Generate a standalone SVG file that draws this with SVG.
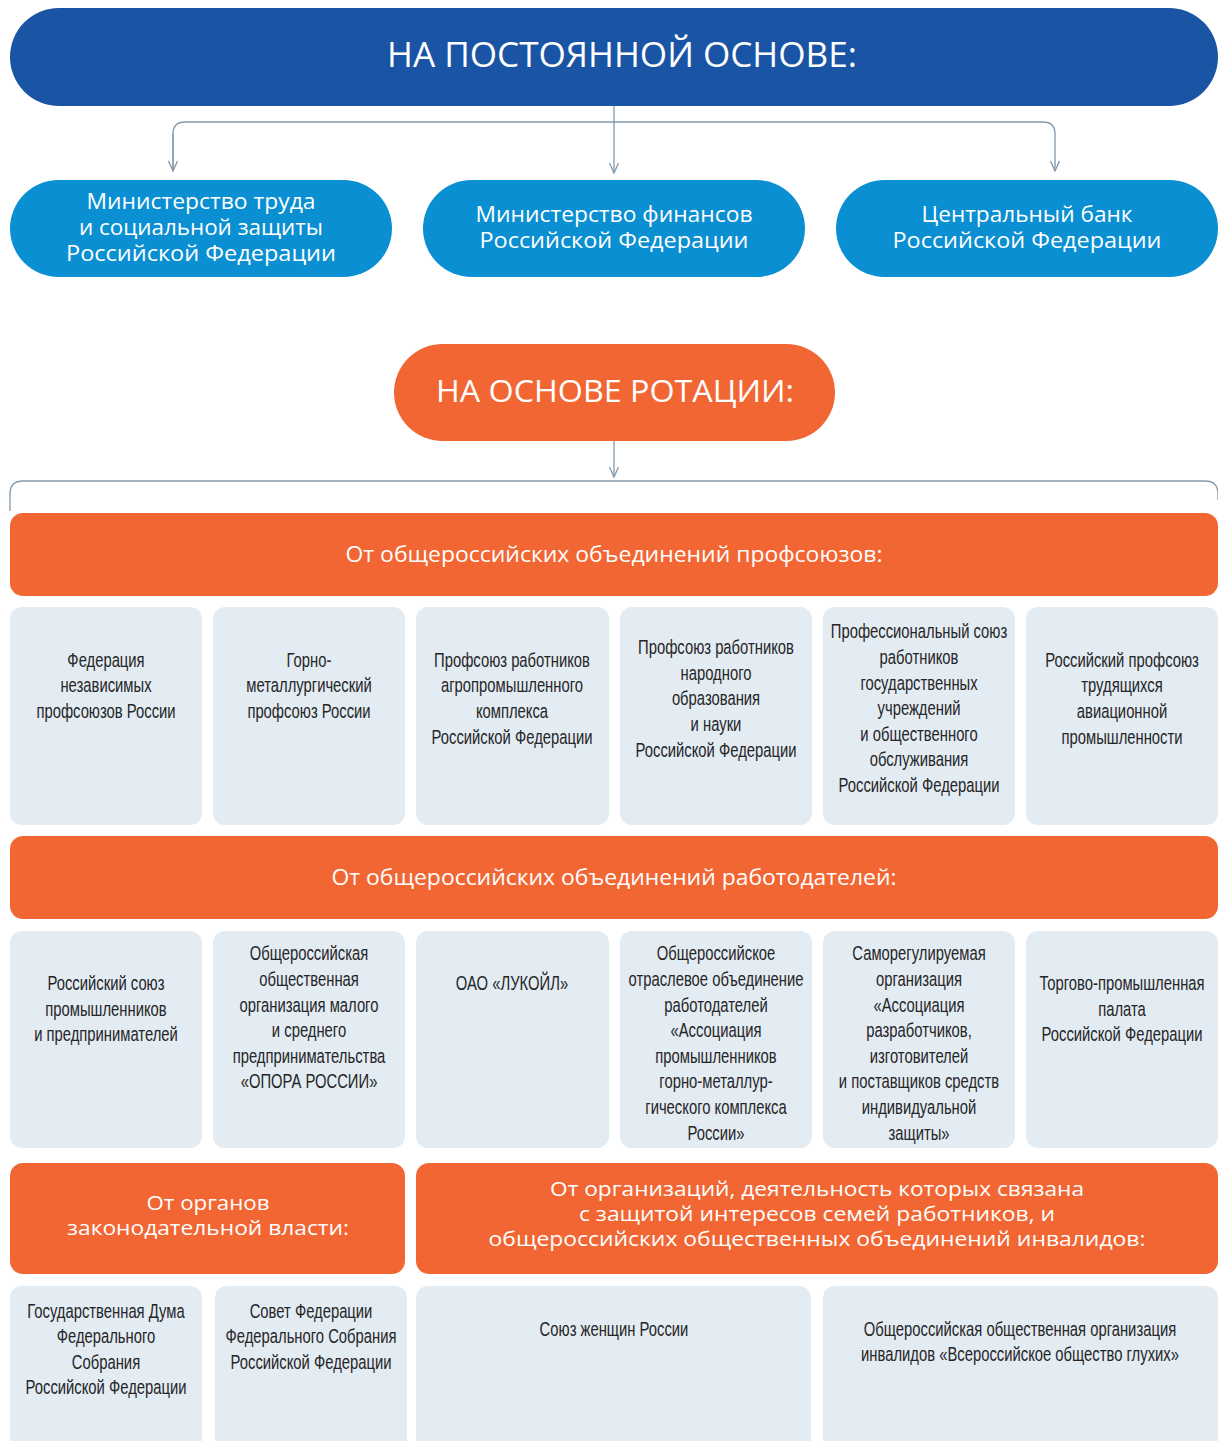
<svg xmlns="http://www.w3.org/2000/svg" width="1218" height="1441" viewBox="0 0 1218 1441">
<style>
.bg{fill:#ffffff}
.blue{fill:#1a54a4}
.lblue{fill:#0a8fd2}
.orange{fill:#f26633}
.card{fill:#e3ebf3}
.ht{font-family:"Open Sans","Noto Sans","Liberation Sans",sans-serif;fill:#ffffff;text-anchor:middle}
.ct{font-family:"Liberation Sans","Arial",sans-serif;font-size:19.5px;fill:#262626;text-anchor:middle}
.conn{fill:none;stroke:#8299ad;stroke-width:1.3}
</style>
<defs>
<marker id="arr" markerUnits="userSpaceOnUse" viewBox="-1 -5 12 10" refX="10" refY="0" markerWidth="12" markerHeight="10" orient="auto">
<path d="M0,-4.5 L10,0 L0,4.5" fill="none" stroke="#8299ad" stroke-width="1.3"/>
</marker>
</defs>
<rect class="bg" x="0" y="0" width="1218" height="1441"/>

<g id="connectors">
<path class="conn" d="M614,106 V173" marker-end="url(#arr)"/>
<path class="conn" d="M173,171 V134 Q173,122 185,122 H1043 Q1055,122 1055,134 V171" marker-end="url(#arr)"/>
<path class="conn" d="M173,134 V171" marker-end="url(#arr)"/>
<path class="conn" d="M614,441 V477" marker-end="url(#arr)"/>
<path class="conn" d="M10,511 V494 Q10,481 23,481 H1205 Q1218,481 1218,494 V500"/>
</g>

<g id="n-permanent">
<rect class="blue" x="10" y="8" width="1208" height="98" rx="49"/>
<text class="ht" x="622" y="67" font-size="34" textLength="470" lengthAdjust="spacingAndGlyphs">НА ПОСТОЯННОЙ ОСНОВЕ:</text>
</g>

<g id="n-mintrud">
<rect class="lblue" x="10" y="180" width="382" height="97" rx="48.5"/>
<text class="ht" font-size="21" x="201" y="209" textLength="229" lengthAdjust="spacingAndGlyphs">Министерство труда</text>
<text class="ht" font-size="21" x="201" y="235" textLength="244" lengthAdjust="spacingAndGlyphs">и социальной защиты</text>
<text class="ht" font-size="21" x="201" y="261" textLength="270" lengthAdjust="spacingAndGlyphs">Российской Федерации</text>
</g>
<g id="n-minfin">
<rect class="lblue" x="423" y="180" width="382" height="97" rx="48.5"/>
<text class="ht" font-size="21" x="614" y="222" textLength="277" lengthAdjust="spacingAndGlyphs">Министерство финансов</text>
<text class="ht" font-size="21" x="614" y="248" textLength="269" lengthAdjust="spacingAndGlyphs">Российской Федерации</text>
</g>
<g id="n-cbr">
<rect class="lblue" x="836" y="180" width="382" height="97" rx="48.5"/>
<text class="ht" font-size="21" x="1027" y="222" textLength="211" lengthAdjust="spacingAndGlyphs">Центральный банк</text>
<text class="ht" font-size="21" x="1027" y="248" textLength="269" lengthAdjust="spacingAndGlyphs">Российской Федерации</text>
</g>

<g id="n-rotation">
<rect class="orange" x="394" y="344" width="441" height="97" rx="48.5"/>
<text class="ht" x="615" y="402" font-size="31" textLength="358" lengthAdjust="spacingAndGlyphs">НА ОСНОВЕ РОТАЦИИ:</text>
</g>

<g id="n-unions-head">
<rect class="orange" x="10" y="513" width="1208" height="83" rx="13"/>
<text class="ht" x="614" y="562" font-size="21" textLength="537" lengthAdjust="spacingAndGlyphs">От общероссийских объединений профсоюзов:</text>
</g>

<g id="n-u1">
<rect class="card" x="10" y="607" width="192" height="218" rx="12"/>
<text class="ct" transform="translate(106,0) scale(0.76,1)"><tspan x="0" y="667">Федерация</tspan><tspan x="0" y="692">независимых</tspan><tspan x="0" y="718">профсоюзов России</tspan></text>
</g>
<g id="n-u2">
<rect class="card" x="213" y="607" width="192" height="218" rx="12"/>
<text class="ct" transform="translate(309,0) scale(0.76,1)"><tspan x="0" y="667">Горно-</tspan><tspan x="0" y="692">металлургический</tspan><tspan x="0" y="718">профсоюз России</tspan></text>
</g>
<g id="n-u3">
<rect class="card" x="416" y="607" width="193" height="218" rx="12"/>
<text class="ct" transform="translate(512,0) scale(0.76,1)"><tspan x="0" y="667">Профсоюз работников</tspan><tspan x="0" y="692">агропромышленного</tspan><tspan x="0" y="718">комплекса</tspan><tspan x="0" y="744">Российской Федерации</tspan></text>
</g>
<g id="n-u4">
<rect class="card" x="620" y="607" width="192" height="218" rx="12"/>
<text class="ct" transform="translate(716,0) scale(0.76,1)"><tspan x="0" y="654">Профсоюз работников</tspan><tspan x="0" y="680">народного</tspan><tspan x="0" y="705">образования</tspan><tspan x="0" y="731">и науки</tspan><tspan x="0" y="757">Российской Федерации</tspan></text>
</g>
<g id="n-u5">
<rect class="card" x="823" y="607" width="192" height="218" rx="12"/>
<text class="ct" transform="translate(919,0) scale(0.76,1)"><tspan x="0" y="638">Профессиональный союз</tspan><tspan x="0" y="664">работников</tspan><tspan x="0" y="690">государственных</tspan><tspan x="0" y="715">учреждений</tspan><tspan x="0" y="741">и общественного</tspan><tspan x="0" y="766">обслуживания</tspan><tspan x="0" y="792">Российской Федерации</tspan></text>
</g>
<g id="n-u6">
<rect class="card" x="1026" y="607" width="192" height="218" rx="12"/>
<text class="ct" transform="translate(1122,0) scale(0.76,1)"><tspan x="0" y="667">Российский профсоюз</tspan><tspan x="0" y="692">трудящихся</tspan><tspan x="0" y="718">авиационной</tspan><tspan x="0" y="744">промышленности</tspan></text>
</g>

<g id="n-employers-head">
<rect class="orange" x="10" y="836" width="1208" height="83" rx="13"/>
<text class="ht" x="614" y="885" font-size="21" textLength="565" lengthAdjust="spacingAndGlyphs">От общероссийских объединений работодателей:</text>
</g>

<g id="n-e1">
<rect class="card" x="10" y="931" width="192" height="217" rx="12"/>
<text class="ct" transform="translate(106,0) scale(0.76,1)"><tspan x="0" y="990">Российский союз</tspan><tspan x="0" y="1016">промышленников</tspan><tspan x="0" y="1041">и предпринимателей</tspan></text>
</g>
<g id="n-e2">
<rect class="card" x="213" y="931" width="192" height="217" rx="12"/>
<text class="ct" transform="translate(309,0) scale(0.76,1)"><tspan x="0" y="960">Общероссийская</tspan><tspan x="0" y="986">общественная</tspan><tspan x="0" y="1012">организация малого</tspan><tspan x="0" y="1037">и среднего</tspan><tspan x="0" y="1063">предпринимательства</tspan><tspan x="0" y="1088">«ОПОРА РОССИИ»</tspan></text>
</g>
<g id="n-e3">
<rect class="card" x="416" y="931" width="193" height="217" rx="12"/>
<text class="ct" transform="translate(512,0) scale(0.76,1)"><tspan x="0" y="990">ОАО «ЛУКОЙЛ»</tspan></text>
</g>
<g id="n-e4">
<rect class="card" x="620" y="931" width="192" height="217" rx="12"/>
<text class="ct" transform="translate(716,0) scale(0.76,1)"><tspan x="0" y="960">Общероссийское</tspan><tspan x="0" y="986">отраслевое объединение</tspan><tspan x="0" y="1012">работодателей</tspan><tspan x="0" y="1037">«Ассоциация</tspan><tspan x="0" y="1063">промышленников</tspan><tspan x="0" y="1088">горно-металлур-</tspan><tspan x="0" y="1114">гического комплекса</tspan><tspan x="0" y="1140">России»</tspan></text>
</g>
<g id="n-e5">
<rect class="card" x="823" y="931" width="192" height="217" rx="12"/>
<text class="ct" transform="translate(919,0) scale(0.76,1)"><tspan x="0" y="960">Саморегулируемая</tspan><tspan x="0" y="986">организация</tspan><tspan x="0" y="1012">«Ассоциация</tspan><tspan x="0" y="1037">разработчиков,</tspan><tspan x="0" y="1063">изготовителей</tspan><tspan x="0" y="1088">и поставщиков средств</tspan><tspan x="0" y="1114">индивидуальной</tspan><tspan x="0" y="1140">защиты»</tspan></text>
</g>
<g id="n-e6">
<rect class="card" x="1026" y="931" width="192" height="217" rx="12"/>
<text class="ct" transform="translate(1122,0) scale(0.76,1)"><tspan x="0" y="990">Торгово-промышленная</tspan><tspan x="0" y="1016">палата</tspan><tspan x="0" y="1041">Российской Федерации</tspan></text>
</g>

<g id="n-legislative-head">
<rect class="orange" x="10" y="1163" width="395" height="111" rx="13"/>
<text class="ht" font-size="20" x="208" y="1210" textLength="123" lengthAdjust="spacingAndGlyphs">От органов</text>
<text class="ht" font-size="20" x="208" y="1235" textLength="282" lengthAdjust="spacingAndGlyphs">законодательной власти:</text>
</g>
<g id="n-families-head">
<rect class="orange" x="416" y="1163" width="802" height="111" rx="13"/>
<text class="ht" font-size="19.5" x="817" y="1196" textLength="534" lengthAdjust="spacingAndGlyphs">От организаций, деятельность которых связана</text>
<text class="ht" font-size="19.5" x="817" y="1221" textLength="476" lengthAdjust="spacingAndGlyphs">с защитой интересов семей работников, и</text>
<text class="ht" font-size="19.5" x="817" y="1246" textLength="657" lengthAdjust="spacingAndGlyphs">общероссийских общественных объединений инвалидов:</text>
</g>

<g id="n-l1">
<rect class="card" x="10" y="1286" width="192" height="175" rx="12"/>
<text class="ct" transform="translate(106,0) scale(0.76,1)"><tspan x="0" y="1318">Государственная Дума</tspan><tspan x="0" y="1343">Федерального</tspan><tspan x="0" y="1369">Собрания</tspan><tspan x="0" y="1394">Российской Федерации</tspan></text>
</g>
<g id="n-l2">
<rect class="card" x="215" y="1286" width="192" height="175" rx="12"/>
<text class="ct" transform="translate(311,0) scale(0.76,1)"><tspan x="0" y="1318">Совет Федерации</tspan><tspan x="0" y="1343">Федерального Собрания</tspan><tspan x="0" y="1369">Российской Федерации</tspan></text>
</g>
<g id="n-f1">
<rect class="card" x="416" y="1286" width="395" height="175" rx="12"/>
<text class="ct" transform="translate(614,0) scale(0.76,1)"><tspan x="0" y="1336">Союз женщин России</tspan></text>
</g>
<g id="n-f2">
<rect class="card" x="823" y="1286" width="395" height="175" rx="12"/>
<text class="ct" transform="translate(1020,0) scale(0.76,1)"><tspan x="0" y="1336">Общероссийская общественная организация</tspan><tspan x="0" y="1361">инвалидов «Всероссийское общество глухих»</tspan></text>
</g>
</svg>
